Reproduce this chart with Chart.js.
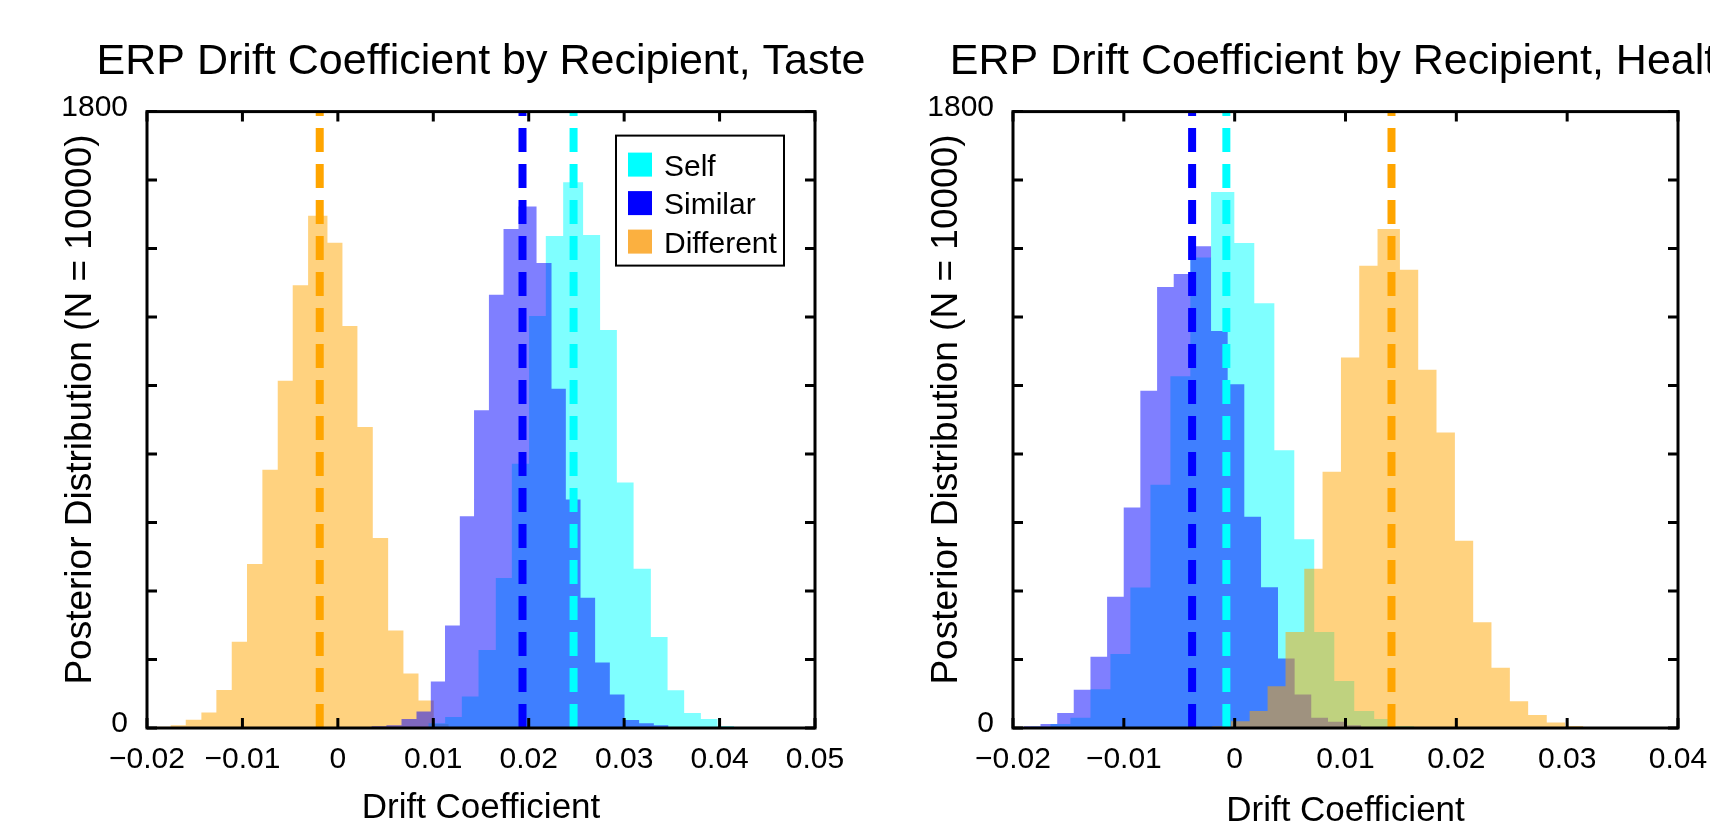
<!DOCTYPE html>
<html>
<head>
<meta charset="utf-8">
<script src="https://cdn.jsdelivr.net/npm/chart.js@4.4.1/dist/chart.umd.min.js"></script>
<style>
  html, body { margin: 0; padding: 0; background: #fff; overflow: hidden; width: 1710px; height: 824px; }
  .panel { position: absolute; top: 0; height: 824px; }
  #tastePanel { left: 0; width: 962px; }
  #healthPanel { left: 866px; width: 958px; }
</style>
</head>
<body>
<div class="panel" id="tastePanel"><canvas id="tasteChart"></canvas></div>
<div class="panel" id="healthPanel"><canvas id="healthChart"></canvas></div>
<script>
const FONT = "'Liberation Sans', Arial, Helvetica, sans-serif";

const seriesNames = ['Self', 'Similar', 'Different'];
const barColors = ['rgba(0, 255, 255, 0.5)', 'rgba(0, 0, 255, 0.5)', 'rgba(255, 165, 0, 0.5)'];
const lineColors = ['#00ffff', '#0000ff', '#ffa500'];
const legendColors = ['#00ffff', '#0000ff', '#fbb040'];

// Taste panel: histogram bin edges and counts
const tasteSelfEdges = [0.00948, 0.01124, 0.01299, 0.01474, 0.01655, 0.01823, 0.02004, 0.02179, 0.02361, 0.02570,
  0.02748, 0.02924, 0.03099, 0.03280, 0.03455, 0.03629, 0.03804, 0.03979, 0.04153];
const tasteSelfCounts = [14, 32, 92, 228, 438, 772, 1203, 1437, 1594, 1440, 1162, 717, 465, 266, 110, 44, 26, 6];

const tasteSimilarEdges = [0.00352, 0.00509, 0.00667, 0.00824, 0.00974, 0.01123, 0.01278, 0.01427, 0.01583, 0.01736,
  0.01893, 0.02082, 0.02239, 0.02389, 0.02543, 0.02696, 0.02850, 0.03004, 0.03157, 0.03311, 0.03465];
const tasteSimilarCounts = [5, 8, 26, 48, 136, 299, 618, 928, 1265, 1457, 1523, 1358, 991, 667, 380, 191, 98, 23, 14, 8];

const tasteDifferentEdges = [-0.01909, -0.01752, -0.01594, -0.01430, -0.01273, -0.01112, -0.00952, -0.00791, -0.00630,
  -0.00473, -0.00312, -0.00109, 0.00048, 0.00205, 0.00366, 0.00527, 0.00687, 0.00845, 0.01005, 0.01162];
const tasteDifferentCounts = [4, 8, 24, 45, 111, 252, 479, 754, 1014, 1293, 1496, 1417, 1174, 879, 555, 285, 159, 80, 12];

const tasteMeans = [0.0247, 0.01935, -0.0019];   // Self, Similar, Different

// Health panel
const healthSelfEdges = [-0.01842, -0.01662, -0.01482, -0.01301, -0.01121, -0.00941, -0.00760, -0.00580, -0.00400,
  -0.00213, -0.00003, 0.00177, 0.00358, 0.00538, 0.00718, 0.00899, 0.01079, 0.01259, 0.01439, 0.01620];
const healthSelfCounts = [4, 12, 30, 113, 216, 410, 710, 1027, 1374, 1565, 1416, 1240, 811, 551, 280, 137, 50, 26, 6];

const healthSimilarEdges = [-0.01903, -0.01752, -0.01601, -0.01452, -0.01301, -0.01151, -0.01001, -0.00851, -0.00700,
  -0.00550, -0.00400, -0.00213, -0.00063, 0.00087, 0.00238, 0.00391, 0.00541, 0.00691, 0.00842, 0.00991, 0.01142];
const healthSimilarCounts = [5, 12, 44, 112, 208, 383, 644, 985, 1288, 1326, 1407, 1159, 1004, 617, 411, 203, 98, 30, 18, 8];

const healthDifferentEdges = [-0.00204, -0.00033, 0.00135, 0.00297, 0.00459, 0.00628, 0.00793, 0.00959, 0.01124,
  0.01289, 0.01491, 0.01656, 0.01821, 0.01987, 0.02152, 0.02317, 0.02483, 0.02648, 0.02816, 0.02981, 0.03146];
const healthDifferentCounts = [5, 20, 50, 122, 280, 465, 748, 1082, 1350, 1457, 1338, 1046, 863, 547, 309, 176, 78, 38, 16, 6];

const healthMeans = [-0.00075, -0.00384, 0.01415];

// axes
const tasteXTicks = [-0.02, -0.01, 0, 0.01, 0.02, 0.03, 0.04, 0.05];
const tasteXTickLabels = ['\u22120.02', '\u22120.01', '0', '0.01', '0.02', '0.03', '0.04', '0.05'];
const healthXTicks = [-0.02, -0.01, 0, 0.01, 0.02, 0.03, 0.04];
const healthXTickLabels = ['\u22120.02', '\u22120.01', '0', '0.01', '0.02', '0.03', '0.04'];
const yTicks = [0, 200, 400, 600, 800, 1000, 1200, 1400, 1600, 1800];
const yTickLabels = ['0', '', '', '', '', '', '', '', '', '1800'];


function histPoints(edges, counts) {
    const pts = counts.map((c, i) => ({ x: edges[i], y: c }));
    pts.push({ x: edges[edges.length - 1], y: 0 });
    return pts;
}

function histDataset(k, edges, counts, order) {
    return {
        label: seriesNames[k],
        legendColor: legendColors[k],
        data: histPoints(edges, counts),
        xAxisID: 'x',
        yAxisID: 'y',
        stepped: true,
        fill: 'origin',
        backgroundColor: barColors[k],
        borderColor: 'rgba(0, 0, 0, 0)',
        borderWidth: 0,
        pointRadius: 0,
        order: order
    };
}

function meanDataset(k, value) {
    return {
        label: seriesNames[k] + ' mean',
        data: [{ x: value, y: 0 }, { x: value, y: 1800 }],
        xAxisID: 'x',
        yAxisID: 'y',
        borderColor: lineColors[k],
        borderWidth: 8,
        borderDash: [24, 12],
        borderCapStyle: 'butt',
        pointRadius: 0,
        fill: false,
        order: 0
    };
}

// box with inward ticks on all four sides
const framePlugin = {
    id: 'histFrame',
    afterDatasetsDraw(chart) {
        const { ctx, chartArea: a, scales } = chart;
        ctx.save();
        ctx.strokeStyle = '#000';
        ctx.lineWidth = 3;
        ctx.beginPath();
        scales.x.ticks.forEach(t => {
            const px = scales.x.getPixelForValue(t.value);
            ctx.moveTo(px, a.bottom);
            ctx.lineTo(px, a.bottom - 10);
            ctx.moveTo(px, a.top);
            ctx.lineTo(px, a.top + 10);
        });
        scales.y.ticks.forEach(t => {
            const py = scales.y.getPixelForValue(t.value);
            ctx.moveTo(a.left, py);
            ctx.lineTo(a.left + 10, py);
            ctx.moveTo(a.right, py);
            ctx.lineTo(a.right - 10, py);
        });
        ctx.stroke();
        ctx.strokeRect(a.left, a.top, a.right - a.left, a.bottom - a.top);
        ctx.restore();
    }
};

// matlab style legend box in the upper right corner
const boxLegendPlugin = {
    id: 'boxLegend',
    afterDatasetsDraw(chart, args, opts) {
        if (!opts.show) return;
        const { ctx, chartArea: a } = chart;
        const items = chart.data.datasets.filter(d => d.legendColor)
            .sort((p, q) => seriesNames.indexOf(p.label) - seriesNames.indexOf(q.label));
        const w = 168, h = 130;
        const left = a.right - 31 - w, top = a.top + 24;
        ctx.save();
        ctx.fillStyle = '#fff';
        ctx.fillRect(left, top, w, h);
        ctx.strokeStyle = '#000';
        ctx.lineWidth = 2;
        ctx.strokeRect(left, top, w, h);
        ctx.font = '30px ' + FONT;
        ctx.textAlign = 'left';
        ctx.textBaseline = 'alphabetic';
        items.forEach((d, i) => {
            const cy = top + 29 + i * 38.5;
            ctx.fillStyle = d.legendColor;
            ctx.fillRect(left + 12, cy - 12, 24, 24);
            ctx.fillStyle = '#000';
            ctx.fillText(d.label, left + 48, cy + 11);
        });
        ctx.restore();
    }
};

function makeChart(id, cfg) {
    return new Chart(document.getElementById(id), {
        type: 'line',
        data: { datasets: cfg.datasets },
        options: {
            responsive: true,
            maintainAspectRatio: false,
            animation: false,
            events: [],
            layout: { padding: 0 },
            plugins: {
                legend: { display: false },
                tooltip: { enabled: false },
                title: {
                    display: true,
                    text: cfg.title,
                    color: '#000',
                    font: { family: FONT, size: 43, weight: 'normal', lineHeight: 1.2 },
                    padding: { top: 36, bottom: 24 }
                },
                boxLegend: { show: cfg.legend }
            },
            scales: {
                x: {
                    type: 'linear',
                    position: 'bottom',
                    min: cfg.xTicks[0],
                    max: cfg.xTicks[cfg.xTicks.length - 1],
                    afterBuildTicks: s => { s.ticks = cfg.xTicks.map(v => ({ value: v })); },
                    afterFit: s => { s.height = 96; },
                    grid: { display: false, drawTicks: false },
                    border: { display: false },
                    ticks: {
                        autoSkip: false,
                        maxRotation: 0,
                        padding: 14,
                        color: '#000',
                        font: { family: FONT, size: 30 },
                        callback: (v, i) => cfg.xTickLabels[i]
                    },
                    title: {
                        display: true,
                        text: 'Drift Coefficient',
                        color: '#000',
                        font: { family: FONT, size: 35, lineHeight: 1 },
                        padding: { top: 0, bottom: cfg.xTitlePad }
                    }
                },
                y: {
                    type: 'linear',
                    position: 'left',
                    min: 0,
                    max: 1800,
                    afterBuildTicks: s => { s.ticks = yTicks.map(v => ({ value: v })); },
                    afterFit: s => { s.width = 147; },
                    grid: { display: false, drawTicks: false },
                    border: { display: false },
                    ticks: {
                        autoSkip: false,
                        padding: 19,
                        labelOffset: -4,
                        color: '#000',
                        font: { family: FONT, size: 30 },
                        callback: (v, i) => yTickLabels[i]
                    },
                    title: {
                        display: true,
                        // two leading spaces nudge the centred label upwards like the original
                        text: '  Posterior Distribution (N = 10000)',
                        color: '#000',
                        font: { family: FONT, size: 37, lineHeight: 1.2 },
                        padding: { top: 59, bottom: 0 }
                    }
                },
                yRight: {
                    type: 'linear',
                    position: 'right',
                    min: 0,
                    max: 1800,
                    afterFit: s => { s.width = cfg.rightWidth; },
                    grid: { display: false, drawTicks: false },
                    border: { display: false },
                    ticks: { display: false }
                }
            }
        },
        plugins: [framePlugin, boxLegendPlugin]
    });
}

makeChart('tasteChart', {
    title: 'ERP Drift Coefficient by Recipient, Taste',
    legend: true,
    xTicks: tasteXTicks,
    xTickLabels: tasteXTickLabels,
    xTitlePad: -2,
    rightWidth: 147,
    datasets: [
        meanDataset(0, tasteMeans[0]),
        meanDataset(1, tasteMeans[1]),
        meanDataset(2, tasteMeans[2]),
        histDataset(1, tasteSimilarEdges, tasteSimilarCounts, 1),
        histDataset(0, tasteSelfEdges, tasteSelfCounts, 2),
        histDataset(2, tasteDifferentEdges, tasteDifferentCounts, 3)
    ]
});

makeChart('healthChart', {
    title: 'ERP Drift Coefficient by Recipient, Health',
    legend: false,
    xTicks: healthXTicks,
    xTickLabels: healthXTickLabels,
    xTitlePad: -5,
    rightWidth: 146,
    datasets: [
        meanDataset(0, healthMeans[0]),
        meanDataset(1, healthMeans[1]),
        meanDataset(2, healthMeans[2]),
        histDataset(2, healthDifferentEdges, healthDifferentCounts, 1),
        histDataset(1, healthSimilarEdges, healthSimilarCounts, 2),
        histDataset(0, healthSelfEdges, healthSelfCounts, 3)
    ]
});
</script>
</body>
</html>
